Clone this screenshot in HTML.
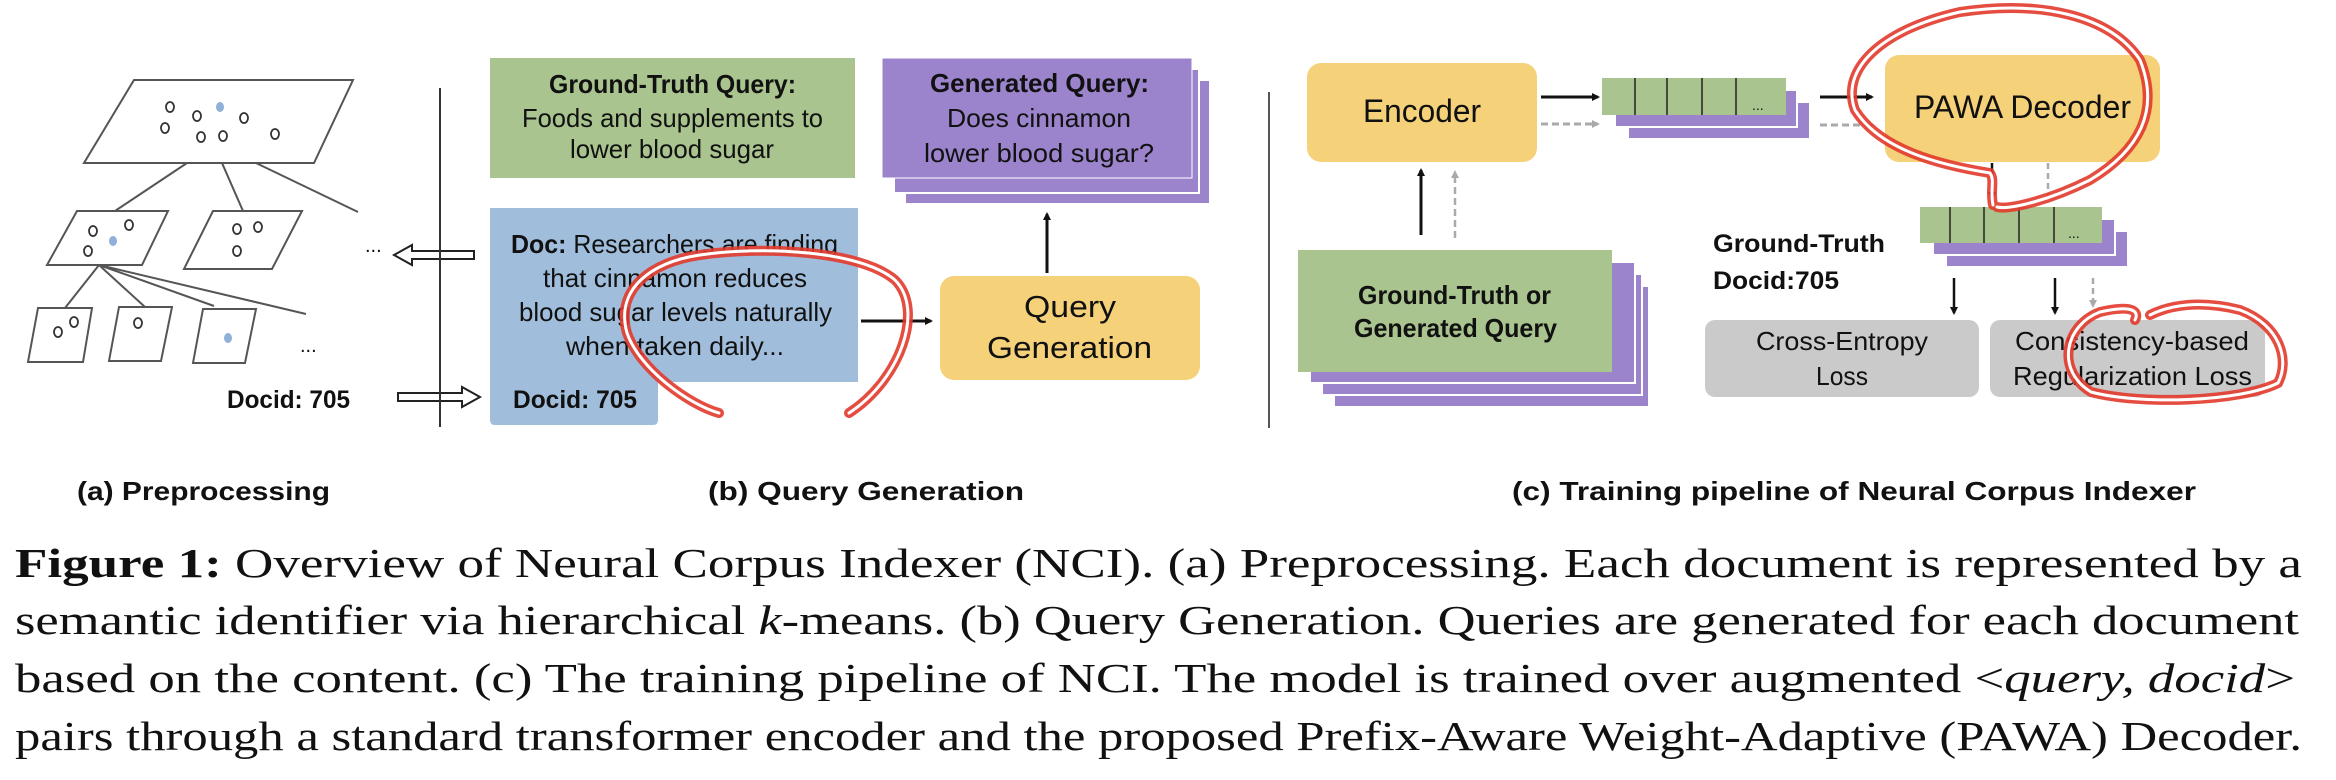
<!DOCTYPE html>
<html><head><meta charset="utf-8"><style>
html,body{margin:0;padding:0;background:#fff;}
svg{display:block;}
text{font-family:"Liberation Sans",sans-serif;fill:#111;}
.b{font-weight:bold;}
.s{font-family:"Liberation Serif",serif;}
</style></head><body>
<svg width="2336" height="780" viewBox="0 0 2336 780" xmlns="http://www.w3.org/2000/svg">
<defs>
<marker id="ah" markerWidth="8" markerHeight="8" refX="6" refY="4" orient="auto" markerUnits="userSpaceOnUse"><path d="M0,0 L8,4 L0,8 z" fill="#111"/></marker>
<marker id="ag" markerWidth="8" markerHeight="8" refX="6" refY="4" orient="auto" markerUnits="userSpaceOnUse"><path d="M0,0 L8,4 L0,8 z" fill="#aaa"/></marker>
</defs>
<rect width="2336" height="780" fill="#fff"/>

<!-- (a) Preprocessing -->
<g stroke="#555" stroke-width="2" fill="#fff">
<polygon points="134,80 353,80 314,163 84,163"/>
<line x1="187" y1="163" x2="115" y2="211"/>
<line x1="222" y1="163" x2="243" y2="211"/>
<line x1="256" y1="163" x2="358" y2="212"/>
<polygon points="77,211 168,211 142,265 47,265"/>
<polygon points="213,211 302,211 272,269 184,269"/>
<line x1="99" y1="265" x2="65" y2="308"/>
<line x1="99" y1="265" x2="145" y2="307"/>
<line x1="99" y1="265" x2="214" y2="306"/>
<line x1="99" y1="265" x2="306" y2="314"/>
<polygon points="38,308 92,308 83,362 28,362"/>
<polygon points="119,307 172,307 161,361 109,361"/>
<polygon points="203,309 256,309 245,363 193,363"/>
</g>
<g stroke="#333" stroke-width="1.8" fill="#fff">
<ellipse cx="170" cy="107" rx="4" ry="5"/><ellipse cx="197" cy="116" rx="4" ry="5"/><ellipse cx="244" cy="118" rx="4" ry="5"/>
<ellipse cx="165" cy="128" rx="4" ry="5"/><ellipse cx="201" cy="137" rx="4" ry="5"/><ellipse cx="223" cy="136" rx="4" ry="5"/><ellipse cx="275" cy="134" rx="4" ry="5"/>
<ellipse cx="129" cy="225" rx="4" ry="5"/><ellipse cx="93" cy="231" rx="4" ry="5"/><ellipse cx="88" cy="251" rx="4" ry="5"/>
<ellipse cx="258" cy="227" rx="4" ry="5"/><ellipse cx="237" cy="229" rx="4" ry="5"/><ellipse cx="237" cy="251" rx="4" ry="5"/>
<ellipse cx="74" cy="322" rx="4" ry="5"/><ellipse cx="58" cy="332" rx="4" ry="5"/><ellipse cx="138" cy="323" rx="4" ry="5"/>
</g>
<g fill="#8fb0d8"><ellipse cx="220" cy="107" rx="4" ry="5"/><ellipse cx="113" cy="241" rx="4" ry="5"/><ellipse cx="228" cy="338" rx="4" ry="5"/></g>
<text x="365" y="252" font-size="20">...</text>
<text x="300" y="352" font-size="20">...</text>
<text class="b" x="227" y="408" font-size="25" textLength="123" lengthAdjust="spacingAndGlyphs">Docid: 705</text>
<!-- hollow arrows -->
<polygon points="394,255 412,245 412,251 474,251 474,259 412,259 412,265" fill="#fff" stroke="#222" stroke-width="2"/>
<polygon points="480,397 462,387 462,393 398,393 398,401 462,401 462,407" fill="#fff" stroke="#222" stroke-width="2"/>
<line x1="440" y1="88" x2="440" y2="427" stroke="#333" stroke-width="2"/>

<!-- (b) Query generation -->
<rect x="490" y="58" width="365" height="120" fill="#a9c48e"/>
<text class="b" x="549" y="93" font-size="26" textLength="247" lengthAdjust="spacingAndGlyphs">Ground-Truth Query:</text>
<text x="522" y="127" font-size="26" textLength="301" lengthAdjust="spacingAndGlyphs">Foods and supplements to</text>
<text x="570" y="158" font-size="26" textLength="204" lengthAdjust="spacingAndGlyphs">lower blood sugar</text>

<rect x="905" y="80" width="305" height="124" fill="#9b84cc" stroke="#fff" stroke-width="2"/>
<rect x="894" y="69" width="305" height="124" fill="#9b84cc" stroke="#fff" stroke-width="2"/>
<rect x="882" y="58" width="310" height="120" fill="#9b84cc" stroke="#fff" stroke-width="1"/>
<text class="b" x="930" y="92" font-size="26" textLength="219" lengthAdjust="spacingAndGlyphs">Generated Query:</text>
<text x="947" y="127" font-size="26" textLength="184" lengthAdjust="spacingAndGlyphs">Does cinnamon</text>
<text x="924" y="162" font-size="26" textLength="230" lengthAdjust="spacingAndGlyphs">lower blood sugar?</text>

<path d="M490,208 H858 V382 H658 V420 Q658,425 653,425 H495 Q490,425 490,420 Z" fill="#a0bedc"/>
<text x="511" y="253" font-size="26" textLength="327" lengthAdjust="spacingAndGlyphs"><tspan class="b">Doc:</tspan> Researchers are finding</text>
<text x="543" y="287" font-size="26" textLength="264" lengthAdjust="spacingAndGlyphs">that cinnamon reduces</text>
<text x="519" y="321" font-size="26" textLength="313" lengthAdjust="spacingAndGlyphs">blood sugar levels naturally</text>
<text x="566" y="355" font-size="26" textLength="218" lengthAdjust="spacingAndGlyphs">when taken daily...</text>
<text class="b" x="513" y="408" font-size="25" textLength="124" lengthAdjust="spacingAndGlyphs">Docid: 705</text>

<line x1="861" y1="321" x2="931" y2="321" stroke="#111" stroke-width="3" marker-end="url(#ah)"/>
<rect x="940" y="276" width="260" height="104" rx="14" fill="#f5d27a"/>
<text x="1024" y="317" font-size="31" textLength="92" lengthAdjust="spacingAndGlyphs">Query</text>
<text x="987" y="358" font-size="31" textLength="165" lengthAdjust="spacingAndGlyphs">Generation</text>
<line x1="1047" y1="273" x2="1047" y2="214" stroke="#111" stroke-width="3" marker-end="url(#ah)"/>

<line x1="1269" y1="92" x2="1269" y2="428" stroke="#555" stroke-width="2"/>

<!-- (c) Training -->
<rect x="1307" y="63" width="230" height="99" rx="14" fill="#f5d27a"/>
<text x="1363" y="122" font-size="32" textLength="118" lengthAdjust="spacingAndGlyphs">Encoder</text>
<line x1="1541" y1="97" x2="1598" y2="97" stroke="#111" stroke-width="3" marker-end="url(#ah)"/>
<line x1="1541" y1="124" x2="1598" y2="124" stroke="#aaa" stroke-width="3" stroke-dasharray="7,4" marker-end="url(#ag)"/>

<rect x="1628" y="102" width="182" height="37" fill="#9b84cc" stroke="#fff" stroke-width="2"/>
<rect x="1615" y="90" width="182" height="37" fill="#9b84cc" stroke="#fff" stroke-width="2"/>
<rect x="1602" y="78" width="184" height="37" fill="#a9c48e"/>
<g stroke="#222" stroke-width="1.5"><line x1="1635" y1="78" x2="1635" y2="115"/><line x1="1667" y1="78" x2="1667" y2="115"/><line x1="1702" y1="78" x2="1702" y2="115"/><line x1="1736" y1="78" x2="1736" y2="115"/></g>
<text x="1752" y="110" font-size="14">...</text>

<line x1="1820" y1="97" x2="1872" y2="97" stroke="#111" stroke-width="3" marker-end="url(#ah)"/>
<line x1="1820" y1="125" x2="1872" y2="125" stroke="#aaa" stroke-width="3" stroke-dasharray="7,4" marker-end="url(#ag)"/>
<rect x="1885" y="55" width="275" height="107" rx="14" fill="#f5d27a"/>
<text x="1914" y="118" font-size="32" textLength="217" lengthAdjust="spacingAndGlyphs">PAWA Decoder</text>
<line x1="1992" y1="163" x2="1992" y2="198" stroke="#111" stroke-width="2.5" marker-end="url(#ah)"/>
<line x1="2048" y1="163" x2="2048" y2="200" stroke="#aaa" stroke-width="2.5" stroke-dasharray="6,4"/>

<rect x="1946" y="231" width="182" height="36" fill="#9b84cc" stroke="#fff" stroke-width="2"/>
<rect x="1933" y="219" width="182" height="36" fill="#9b84cc" stroke="#fff" stroke-width="2"/>
<rect x="1920" y="207" width="182" height="36" fill="#a9c48e"/>
<g stroke="#222" stroke-width="1.5"><line x1="1950" y1="207" x2="1950" y2="243"/><line x1="1984" y1="207" x2="1984" y2="243"/><line x1="2019" y1="207" x2="2019" y2="243"/><line x1="2054" y1="207" x2="2054" y2="243"/></g>
<text x="2068" y="238" font-size="14">...</text>

<text class="b" x="1713" y="252" font-size="25" textLength="172" lengthAdjust="spacingAndGlyphs">Ground-Truth</text>
<text class="b" x="1713" y="289" font-size="25" textLength="126" lengthAdjust="spacingAndGlyphs">Docid:705</text>

<line x1="1954" y1="278" x2="1954" y2="313" stroke="#111" stroke-width="2.5" marker-end="url(#ah)"/>
<line x1="2055" y1="278" x2="2055" y2="313" stroke="#111" stroke-width="2.5" marker-end="url(#ah)"/>
<line x1="2093" y1="278" x2="2093" y2="306" stroke="#aaa" stroke-width="2.5" stroke-dasharray="6,4" marker-end="url(#ag)"/>

<rect x="1705" y="320" width="274" height="77" rx="10" fill="#cacaca"/>
<text x="1756" y="350" font-size="26" textLength="172" lengthAdjust="spacingAndGlyphs">Cross-Entropy</text>
<text x="1816" y="385" font-size="26" textLength="52" lengthAdjust="spacingAndGlyphs">Loss</text>
<rect x="1990" y="320" width="275" height="77" rx="10" fill="#cacaca"/>
<text x="2015" y="350" font-size="26" textLength="234" lengthAdjust="spacingAndGlyphs">Consistency-based</text>
<text x="2013" y="385" font-size="26" textLength="239" lengthAdjust="spacingAndGlyphs">Regularization Loss</text>

<rect x="1334" y="286" width="315" height="121" fill="#9b84cc" stroke="#fff" stroke-width="2"/>
<rect x="1322" y="274" width="320" height="121" fill="#9b84cc" stroke="#fff" stroke-width="2"/>
<rect x="1310" y="262" width="325" height="121" fill="#9b84cc" stroke="#fff" stroke-width="2"/>
<rect x="1298" y="250" width="314" height="122" fill="#a9c48e"/>
<text class="b" x="1358" y="304" font-size="26" textLength="193" lengthAdjust="spacingAndGlyphs">Ground-Truth or</text>
<text class="b" x="1354" y="337" font-size="26" textLength="203" lengthAdjust="spacingAndGlyphs">Generated Query</text>

<line x1="1421" y1="235" x2="1421" y2="170" stroke="#111" stroke-width="3" marker-end="url(#ah)"/>
<line x1="1455" y1="238" x2="1455" y2="172" stroke="#aaa" stroke-width="2.5" stroke-dasharray="7,4" marker-end="url(#ag)"/>

<!-- red annotations -->
<g fill="none" stroke-linecap="round" stroke-linejoin="round">
<path id="r1" d="M719,413 C690,405 640,370 627,333 C615,290 650,262 700,255 C760,246 860,250 895,280 C925,310 900,380 849,413"/>
<path id="r2" d="M1993,205 C1990,190 1995,180 1990,173 C1940,165 1880,150 1855,110 C1840,70 1880,30 1960,12 C2040,0 2110,15 2140,60 C2160,110 2140,150 2090,180 C2050,200 2010,210 1997,207"/>
<path id="r3" d="M2135,320 C2140,310 2130,305 2100,312 C2065,325 2055,370 2091,392 C2140,405 2240,402 2278,383 C2290,360 2280,325 2240,310 C2200,300 2170,305 2150,315"/>
</g>
<g fill="none" stroke="#e23a2c" stroke-width="10" stroke-linecap="round" opacity="0.9">
<use href="#r1"/><use href="#r2"/><use href="#r3"/>
</g>
<g fill="none" stroke="#fff" stroke-width="3" stroke-linecap="round">
<use href="#r1"/><use href="#r2"/><use href="#r3"/>
</g>

<!-- sub captions -->
<text class="b" x="77" y="500" font-size="26" textLength="253" lengthAdjust="spacingAndGlyphs">(a) Preprocessing</text>
<text class="b" x="708" y="500" font-size="26" textLength="316" lengthAdjust="spacingAndGlyphs">(b) Query Generation</text>
<text class="b" x="1512" y="500" font-size="26" textLength="684" lengthAdjust="spacingAndGlyphs">(c) Training pipeline of Neural Corpus Indexer</text>

<!-- figure caption -->
<text class="s" x="15" y="577" font-size="41" textLength="2287" lengthAdjust="spacingAndGlyphs"><tspan font-weight="bold">Figure 1:</tspan> Overview of Neural Corpus Indexer (NCI). (a) Preprocessing. Each document is represented by a</text>
<text class="s" x="15" y="634" font-size="41" textLength="2284" lengthAdjust="spacingAndGlyphs">semantic identifier via hierarchical <tspan font-style="italic">k</tspan>-means. (b) Query Generation. Queries are generated for each document</text>
<text class="s" x="15" y="692" font-size="41" textLength="2280" lengthAdjust="spacingAndGlyphs">based on the content. (c) The training pipeline of NCI. The model is trained over augmented &lt;<tspan font-style="italic">query, docid</tspan>&gt;</text>
<text class="s" x="15" y="750" font-size="41" textLength="2287" lengthAdjust="spacingAndGlyphs">pairs through a standard transformer encoder and the proposed Prefix-Aware Weight-Adaptive (PAWA) Decoder.</text>
</svg>
</body></html>
